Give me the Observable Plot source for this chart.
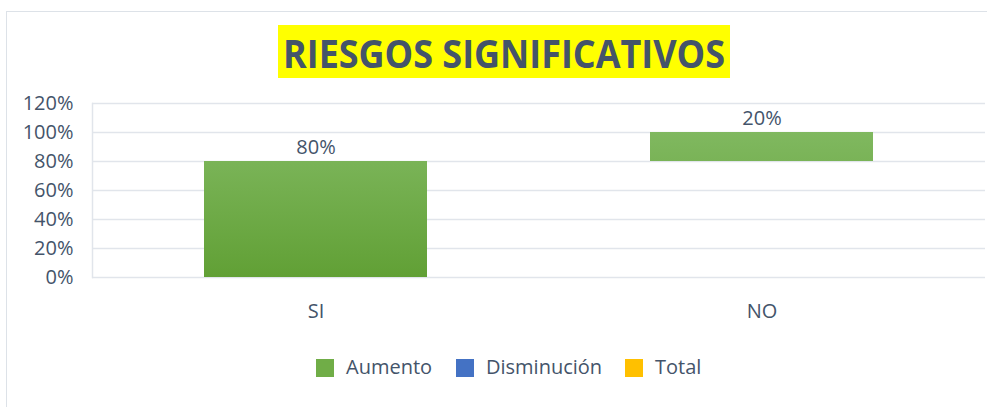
<!DOCTYPE html>
<html><head><meta charset="utf-8">
<script src="https://cdn.jsdelivr.net/npm/d3@7"></script>
<script src="https://cdn.jsdelivr.net/npm/@observablehq/plot@0.6"></script>
<style>
html,body{margin:0;padding:0;background:#fff;font-family:"Open Sans",sans-serif;}
#wrap{position:relative;width:987px;height:407px;overflow:hidden;}
#frame{position:absolute;left:6px;top:11px;width:1000px;height:420px;border:1.5px solid #dde2e8;box-sizing:border-box;}
#titlebox{position:absolute;left:0;top:0;}
#chart{position:absolute;left:0;top:90px;}
.lg{position:absolute;top:355px;font-size:20px;color:#44546A;line-height:24px;}
.sw{position:absolute;top:359px;width:18px;height:18px;}
</style>
</head><body>
<div id="wrap">
  <div id="frame"></div>
  <svg id="titlebox" width="987" height="90">
    <rect x="278" y="25" width="452" height="53" fill="#ffff00"></rect>
    <text id="ttl" x="283" y="68" font-family="Open Sans" font-weight="700" font-size="39" fill="#44546A" textLength="442" lengthAdjust="spacingAndGlyphs">RIESGOS SIGNIFICATIVOS</text>
  </svg>
  <div id="chart"></div>
  <div id="legend"></div>
</div>
<script>
const categories = ["SI", "NO"];
const values = [0.80, 0.20];
const yTicks = [0, 0.2, 0.4, 0.6, 0.8, 1.0, 1.2];
const legendLabels = ["Aumento", "Disminución", "Total"];
const legendColors = ["#70ad47", "#4472c4", "#ffc000"];
const legendX = [316, 456, 625];

const pct = d3.format(".0%");
const ends = d3.cumsum(values);
const data = categories.map((c, i) => ({cat: c, y1: ends[i] - values[i], y2: ends[i], v: values[i]}));

const chart = Plot.plot({
  width: 987, height: 240,
  marginLeft: 92, marginRight: 2, marginTop: 13, marginBottom: 53,
  x: {domain: categories, paddingInner: 0.5, paddingOuter: 0.25, label: null},
  y: {domain: [0, 1.2], label: null},
  style: {fontFamily: "Open Sans", fontSize: "20px", color: "#44546A", background: "transparent"},
  marks: [
    Plot.gridY(yTicks, {stroke: "#e1e5eb", strokeOpacity: 1, strokeWidth: 1.5}),
    Plot.frame({anchor: "left", stroke: "#e1e5eb", strokeWidth: 1.5}),
    Plot.barY(data, {x: "cat", y1: "y1", y2: "y2", fill: "url(#greenGrad)"}),
    Plot.text(data, {x: "cat", y: "y2", text: d => pct(d.v), dy: -14, fontSize: 20, fill: "#44546A"}),
    Plot.axisY(yTicks, {tickSize: 0, tickPadding: 19, tickFormat: pct, fontSize: 20, fill: "#44546A", label: null}),
    Plot.axisX({tickSize: 0, tickPadding: 26, fontSize: 20, fill: "#44546A", label: null})
  ]
});
document.getElementById("chart").appendChild(chart);

// gradient for bars (spanning plot area)
const svg = d3.select(chart);
const defs = svg.insert("defs", ":first-child");
const g = defs.append("linearGradient").attr("id", "greenGrad")
  .attr("gradientUnits", "userSpaceOnUse").attr("x1", 0).attr("x2", 0).attr("y1", 13).attr("y2", 187);
g.append("stop").attr("offset", "0%").attr("stop-color", "#86bd68");
g.append("stop").attr("offset", "100%").attr("stop-color", "#61a035");

// legend
const lg = document.getElementById("legend");
legendLabels.forEach((lab, i) => {
  const sw = document.createElement("div");
  sw.className = "sw";
  sw.style.left = legendX[i] + "px";
  sw.style.background = legendColors[i];
  lg.appendChild(sw);
  const t = document.createElement("div");
  t.className = "lg";
  t.style.left = (legendX[i] + 30) + "px";
  t.textContent = lab;
  lg.appendChild(t);
});
</script>
</body></html>
